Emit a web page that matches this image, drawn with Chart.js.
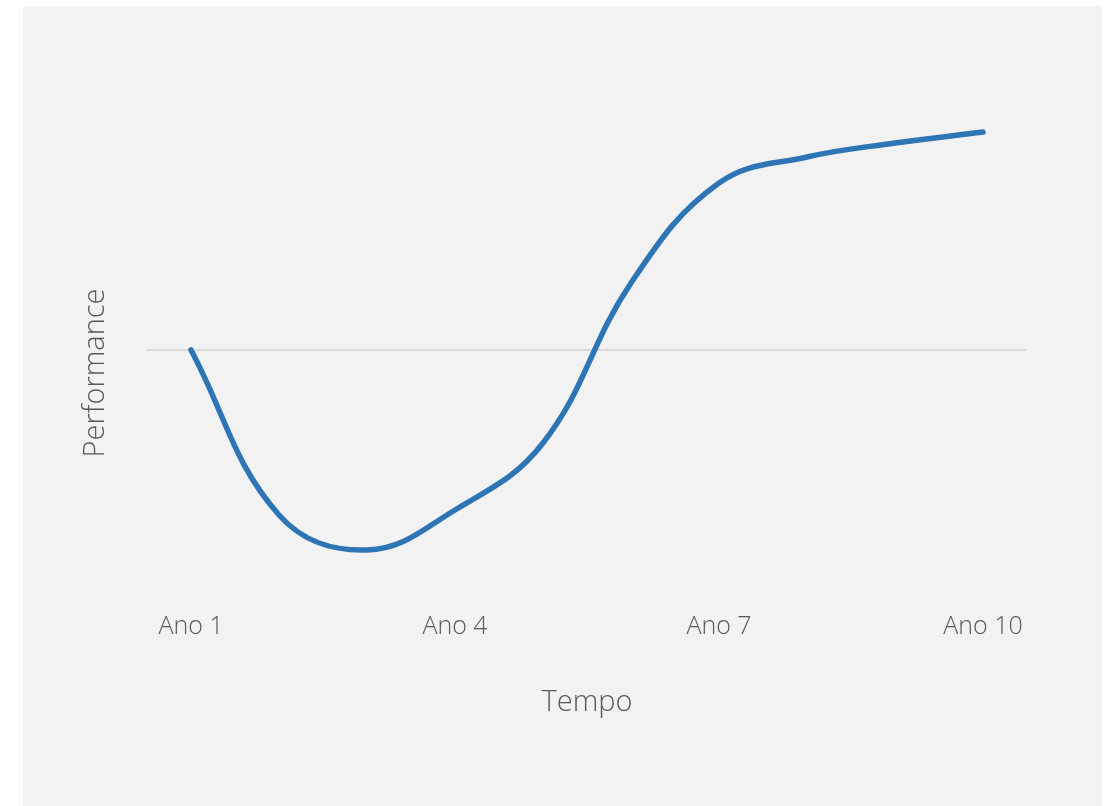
<!DOCTYPE html>
<html>
<head>
<meta charset="utf-8">
<script src="https://cdn.jsdelivr.net/npm/chart.js@4"></script>
<style>
  html, body { margin: 0; padding: 0; background: #ffffff; }
  #wrap {
    position: absolute;
    left: 23px;
    top: 6px;
    width: 1079px;
    height: 800px;
    background: #f2f2f2;
  }
</style>
</head>
<body>
<div id="wrap"><canvas id="perfChart"></canvas></div>
<script>
// years along the x axis, only every third one gets a label
const years = ["Ano 1", "Ano 2", "Ano 3", "Ano 4", "Ano 5", "Ano 6", "Ano 7", "Ano 8", "Ano 9", "Ano 10"];
const shownLabels = ["Ano 1", "Ano 4", "Ano 7", "Ano 10"];
// performance relative to the starting point (no units in the source)
const performance = [0, -1.65, -2.0, -1.6, -0.93, 0.67, 1.67, 1.93, 2.07, 2.18];

const textColor = '#595959';
const fontFamily = '"Open Sans", "Segoe UI", sans-serif';

const ctx = document.getElementById('perfChart').getContext('2d');

new Chart(ctx, {
    type: 'line',
    data: {
        labels: years,
        datasets: [{
            label: 'Performance',
            data: performance,
            borderColor: '#2e75b6',
            borderWidth: 5.5,
            borderCapStyle: 'round',
            borderJoinStyle: 'round',
            tension: 0.4,
            pointRadius: 0,
            fill: false,
            clip: false // the top of the curve runs above the plot box, like in the original
        }]
    },
    options: {
        responsive: true,
        maintainAspectRatio: false,
        animation: false,
        layout: { padding: { top: 140, right: 75, left: 0, bottom: 0 } },
        plugins: {
            legend: { display: false },
            tooltip: { enabled: false }
        },
        scales: {
            x: {
                offset: true,
                grid: { display: false, drawTicks: false },
                border: { display: false },
                ticks: {
                    autoSkip: false,
                    maxRotation: 0,
                    padding: 12,
                    color: textColor,
                    font: { family: fontFamily, size: 25, weight: 300 },
                    callback: function(val) {
                        const lbl = this.getLabelForValue(val);
                        return shownLabels.includes(lbl) ? lbl : '';
                    }
                },
                title: {
                    display: true,
                    text: 'Tempo',
                    color: textColor,
                    font: { family: fontFamily, size: 29, weight: 300 },
                    padding: { top: 0, bottom: 86 }
                },
                afterFit: (scale) => { scale.height = 206; }
            },
            y: {
                min: -2.5,
                max: 2.04,
                grid: {
                    drawTicks: false,
                    lineWidth: 2,
                    color: (c) => c.tick && c.tick.value === 0 ? '#d9d9d9' : 'rgba(0,0,0,0)'
                },
                border: { display: false },
                ticks: { display: false, stepSize: 0.5 },
                afterBuildTicks: (scale) => { scale.ticks = [{ value: 0 }]; },
                title: {
                    display: true,
                    text: 'Performance',
                    color: textColor,
                    font: { family: fontFamily, size: 29, weight: 300 },
                    padding: { top: 55, bottom: 0 }
                },
                afterFit: (scale) => { scale.width = 124; }
            }
        }
    }
});
</script>
</body>
</html>
